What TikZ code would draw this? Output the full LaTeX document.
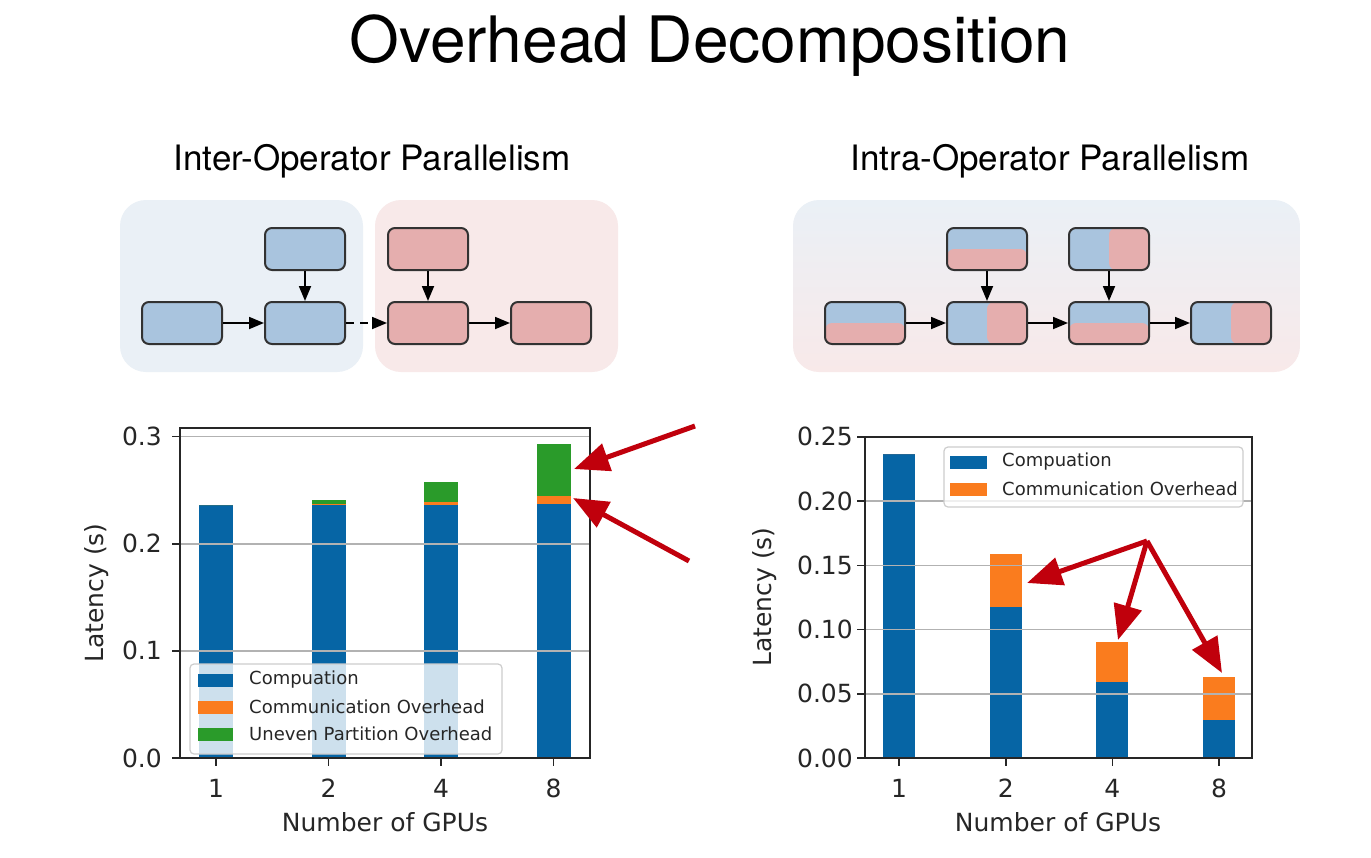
\documentclass[tikz,border=0pt]{standalone}
\usepackage{fontspec}
\setmainfont{TeX Gyre Heros}
\newfontfamily\plotfont{DejaVu Sans}
\usepackage{tikz}
\usetikzlibrary{positioning}
\usetikzlibrary{arrows.meta}
\definecolor{boxblue}{RGB}{169,196,222}
\definecolor{boxred}{RGB}{229,174,174}
\definecolor{panelblue}{RGB}{234,240,246}
\definecolor{panelred}{RGB}{248,233,233}
\definecolor{edgegray}{RGB}{50,50,50}
\definecolor{barblue}{RGB}{6,101,165}
\definecolor{barorange}{RGB}{250,124,30}
\definecolor{bargreen}{RGB}{42,155,42}
\definecolor{gridgray}{RGB}{178,178,178}
\definecolor{legendgray}{RGB}{205,205,205}
\definecolor{arrowred}{RGB}{192,0,12}

\begin{document}
\begin{tikzpicture}[x=1pt,y=-1pt,node distance=74pt and 123pt,on grid]
    % estilos
    \tikzstyle{opbox}=[rectangle,draw=edgegray,line width=2pt,fill=boxblue,minimum width=80pt,minimum height=42pt,rounded corners=7pt,inner sep=0pt]
    \tikzstyle{redbox}=[opbox,fill=boxred]
    \tikzstyle{hsplit}=[opbox,path picture={\fill[boxred] (path picture bounding box.west) rectangle (path picture bounding box.south east);}]
    \tikzstyle{vsplit}=[opbox,path picture={\fill[boxred] (path picture bounding box.north) rectangle (path picture bounding box.south east);}]
    \tikzstyle{flow}=[line width=1.8pt,-{Triangle[length=15pt,width=12pt]}]
    \tikzstyle{subtitle}=[font=\fontsize{35}{40}\selectfont,anchor=base]
    \tikzstyle{gridline}=[gridgray,line width=1.6pt]
    \tikzstyle{tickline}=[black!85,line width=1.6pt]
    \tikzstyle{frameline}=[black!85,line width=2pt]
    \tikzstyle{ticklabel}=[font=\plotfont\fontsize{25}{30}\selectfont,inner sep=0pt,text=black!85]
    \tikzstyle{axislabel}=[ticklabel]
    \tikzstyle{legendbox}=[fill=white,fill opacity=0.8,draw=legendgray,draw opacity=1,line width=1.2pt,rounded corners=4pt]
    \tikzstyle{legendtext}=[font=\plotfont\fontsize{18}{22}\selectfont,inner sep=0pt,anchor=west,text=black!85]
    \tikzstyle{redarrow}=[arrowred,line width=5pt,-{Triangle[length=35pt,width=28pt]}]

    \fill[white] (0,0) rectangle (1371,857);
    \useasboundingbox (0,0) rectangle (1371,857);

    \node[font=\fontsize{64}{70}\selectfont,anchor=base] (title) at (710,62) {Overhead Decomposition};
    \node[subtitle] (intertitle) at (372,170) {Inter-Operator Parallelism};
    \node[subtitle] (intratitle) at (1050,170) {Intra-Operator Parallelism};

    % inter-operator
    \fill[panelblue,rounded corners=26pt] (120,200) rectangle (363,372);
    \fill[panelred,rounded corners=26pt] (375,200) rectangle (618,372);
    \node[opbox] (b_1) at (182,323) {};
    \node[opbox] (b_2) [right=of b_1] {};
    \node[opbox] (b_t) [above=of b_2] {};
    \node[redbox] (r_1) [right=of b_2] {};
    \node[redbox] (r_t) [above=of r_1] {};
    \node[redbox] (r_2) [right=of r_1] {};

    \path[flow]
    (b_1) edge (b_2)
    (b_t) edge (b_2)
    (b_2) edge [dash pattern=on 8pt off 6pt] (r_1)
    (r_t) edge (r_1)
    (r_1) edge (r_2);

    % intra-operator
    \shade[top color=panelblue,bottom color=panelred,rounded corners=26pt] (793,200) rectangle (1300,372);
    \begin{scope}[node distance=74pt and 122pt]
    \node[hsplit] (s_1) at (865,323) {};
    \node[vsplit] (s_2) [right=of s_1] {};
    \node[hsplit] (s_t2) [above=of s_2] {};
    \node[hsplit] (s_3) [right=of s_2] {};
    \node[vsplit] (s_t3) [above=of s_3] {};
    \node[vsplit] (s_4) [right=of s_3] {};
    \end{scope}

    \path[flow]
    (s_1) edge (s_2)
    (s_t2) edge (s_2)
    (s_2) edge (s_3)
    (s_t3) edge (s_3)
    (s_3) edge (s_4);

    % grafico izquierdo
    \foreach \i/\c/\m/\u in {0/0.236/0.236/0.236, 1/0.237/0.2375/0.2405, 2/0.236/0.2385/0.258, 3/0.237/0.2445/0.293}{
      \pgfmathsetmacro\bx{216+112.5*\i}
      \fill[barblue] (\bx-17,758) rectangle (\bx+17,{758-1071.4*\c});
      \fill[barorange] (\bx-17,{758-1071.4*\c}) rectangle (\bx+17,{758-1071.4*\m});
      \fill[bargreen] (\bx-17,{758-1071.4*\m}) rectangle (\bx+17,{758-1071.4*\u});
    }
    \foreach \v/\t [count=\n] in {0/0.0, 0.1/0.1, 0.2/0.2, 0.3/0.3}{
      \draw[gridline] (180,{758-1071.4*\v}) -- (590,{758-1071.4*\v});
      \draw[tickline] (172,{758-1071.4*\v}) -- (180,{758-1071.4*\v});
      \node[ticklabel,anchor=east] (ly\n) at (162,{758-1071.4*\v}) {\t};
    }
    \foreach \t [count=\n from 0] in {1,2,4,8}{
      \draw[tickline] (216+112.5*\n,758) -- ++(0,8);
      \node[ticklabel] (lx\n) at (216+112.5*\n,788) {\t};
    }
    \draw[frameline] (180,428) rectangle (590,758);
    \node[axislabel,rotate=90] (lylab) at (97,593) {Latency (s)};
    \node[axislabel] (lxlab) at (385,822) {Number of GPUs};

    \draw[legendbox] (190,664) rectangle (502,754);
    \fill[barblue] (198,674) rectangle (233,687);
    \fill[barorange] (198,701) rectangle (233,714);
    \fill[bargreen] (198,728) rectangle (233,741);
    \node[legendtext] (lleg1) at (249,680) {Compuation};
    \node[legendtext] (lleg2) at (249,707) {Communication Overhead};
    \node[legendtext] (lleg3) at (249,734) {Uneven Partition Overhead};

    \coordinate (la_1) at (695,426);
    \coordinate (la_1t) at (574,469);
    \coordinate (la_2) at (689,561);
    \coordinate (la_2t) at (573,498);
    \draw[redarrow] (la_1) -- (la_1t);
    \draw[redarrow] (la_2) -- (la_2t);

    % grafico derecho
    \foreach \i/\c/\m in {0/0.2364/0.2364, 1/0.1178/0.1586, 2/0.0594/0.0905, 3/0.0296/0.0633}{
      \pgfmathsetmacro\bx{899+106.7*\i}
      \fill[barblue] (\bx-16,758) rectangle (\bx+16,{758-1284.6*\c});
      \fill[barorange] (\bx-16,{758-1284.6*\c}) rectangle (\bx+16,{758-1284.6*\m});
    }
    \foreach \v/\t [count=\n] in {0/0.00, 0.05/0.05, 0.1/0.10, 0.15/0.15, 0.2/0.20, 0.25/0.25}{
      \draw[gridline] (865,{758-1284.6*\v}) -- (1252,{758-1284.6*\v});
      \draw[tickline] (857,{758-1284.6*\v}) -- (865,{758-1284.6*\v});
      \node[ticklabel,anchor=east] (ry\n) at (853,{758-1284.6*\v}) {\t};
    }
    \foreach \t [count=\n from 0] in {1,2,4,8}{
      \draw[tickline] (899+106.7*\n,758) -- ++(0,8);
      \node[ticklabel] (rx\n) at (899+106.7*\n,788) {\t};
    }
    \draw[frameline] (865,437) rectangle (1252,758);
    \node[axislabel,rotate=90] (rylab) at (765,597) {Latency (s)};
    \node[axislabel] (rxlab) at (1058,822) {Number of GPUs};

    \draw[legendbox] (944,447) rectangle (1243,507);
    \fill[barblue] (950,456) rectangle (987,469);
    \fill[barorange] (950,483) rectangle (987,496);
    \node[legendtext] (rleg1) at (1002,462) {Compuation};
    \node[legendtext] (rleg2) at (1002,489) {Communication Overhead};

    \coordinate (ra) at (1147,541);
    \coordinate (ra_2) at (1027,583);
    \coordinate (ra_4) at (1118,640);
    \coordinate (ra_8) at (1222,673);
    \draw[redarrow] (ra) -- (ra_2);
    \draw[redarrow] (ra) -- (ra_4);
    \draw[redarrow] (ra) -- (ra_8);

  \end{tikzpicture}
\end{document}
